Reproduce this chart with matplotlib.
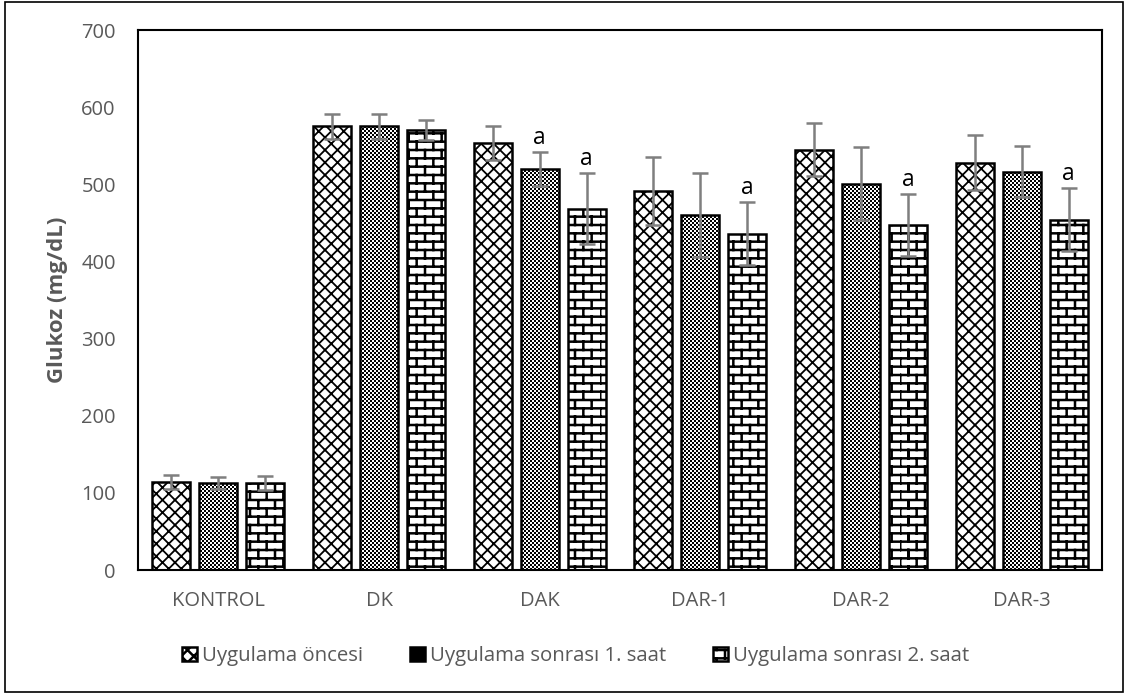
import warnings
import numpy as np
import matplotlib
matplotlib.use("Agg")
import matplotlib.pyplot as plt
import matplotlib.hatch as mhatch
from matplotlib.path import Path
from matplotlib.patches import Rectangle

warnings.filterwarnings("ignore")

# ---------------- data ----------------
categories = ["KONTROL", "DK", "DAK", "DAR-1", "DAR-2", "DAR-3"]
series_names = ["Uygulama öncesi", "Uygulama sonrası 1. saat", "Uygulama sonrası 2. saat"]
before = [114, 575, 553, 491, 545, 528]
after1 = [113, 575, 520, 460, 501, 516]
after2 = [113, 570, 468, 436, 447, 454]
err_before = [9, 16, 22, 44, 34, 36]
err_after1 = [8, 16, 22, 54, 47, 33]
err_after2 = [9, 13, 46, 41, 40, 41]
# significance marks ("a") per series
marks_after1 = ["", "", "a", "", "", ""]
marks_after2 = ["", "", "a", "a", "a", "a"]
yticks = [0, 100, 200, 300, 400, 500, 600, 700]


# ---------------- custom hatches ----------------
class DiamondHatch(mhatch.HatchPatternBase):
    def __init__(self, hatch, density):
        self.n = 8 * hatch.count('D')
        self.num_vertices = 0 if self.n == 0 else (2 * self.n + 1) * 4

    def set_vertices_and_codes(self, vertices, codes):
        n = self.n
        pts = []
        for i in range(-n, n + 1):
            x = i / n
            pts += [(x, 0), (x + 1, 1), (x, 1), (x + 1, 0)]
        vertices[:] = pts
        codes[0::2] = Path.MOVETO
        codes[1::2] = Path.LINETO


class BrickHatch(mhatch.HatchPatternBase):
    def __init__(self, hatch, density):
        k = hatch.count('B')
        self.rows = 12
        self.cols = 6
        if k == 0:
            self.num_vertices = 0
        else:
            self.num_vertices = (self.rows + 1) * 2 + self.rows * (self.cols + 1) * 2

    def set_vertices_and_codes(self, vertices, codes):
        pts = []
        for r in range(self.rows + 1):
            y = r / self.rows
            pts += [(-0.05, y), (1.05, y)]
        for r in range(self.rows):
            y0 = r / self.rows
            y1 = (r + 1) / self.rows
            shift = 0.0 if r % 2 == 0 else 0.5 / self.cols
            for c in range(self.cols + 1):
                xx = (c / self.cols + shift) % 1.0
                pts += [(xx, y0), (xx, y1)]
        vertices[:] = pts
        codes[0::2] = Path.MOVETO
        codes[1::2] = Path.LINETO


class CheckerHatch(mhatch.HatchPatternBase):
    def __init__(self, hatch, density):
        k = hatch.count('C')
        self.n = 50
        if k == 0:
            self.num_vertices = 0
        else:
            self.num_cells = (self.n * self.n) // 2
            self.num_vertices = self.num_cells * 5

    def set_vertices_and_codes(self, vertices, codes):
        n = self.n
        s = 1.0 / n
        pts = []
        cds = []
        for i in range(n):
            for j in range(n):
                if (i + j) % 2 == 0:
                    x0, y0 = i * s, j * s
                    pts += [(x0, y0), (x0 + s, y0), (x0 + s, y0 + s), (x0, y0 + s), (x0, y0)]
                    cds += [Path.MOVETO, Path.LINETO, Path.LINETO, Path.LINETO, Path.CLOSEPOLY]
        vertices[:] = pts
        codes[:] = cds


mhatch._hatch_types.extend([DiamondHatch, BrickHatch, CheckerHatch])

# ---------------- figure ----------------
plt.rcParams['font.family'] = ['Open Sans', 'DejaVu Sans']
W, H = 1129, 695
fig = plt.figure(figsize=(W / 100, H / 100), dpi=100)
ax = fig.add_axes([138 / W, 1 - 570 / H, (1102 - 138) / W, (570 - 30) / H])

x = np.arange(len(categories))
bw = 0.237
step = 0.292
series = [before, after1, after2]
errs = [err_before, err_after1, err_after2]
hatches = ['D', 'C', 'B']
hlw = [1.3, 0.01, 1.8]
marks = [[""] * 6, marks_after1, marks_after2]

handles = []
for k in range(3):
    plt.rcParams['hatch.linewidth'] = hlw[k]
    pos = x + (k - 1) * step
    bars = ax.bar(pos, series[k], width=bw, color='white', edgecolor='black',
                  linewidth=1.8, hatch=hatches[k], zorder=2)
    try:
        for b in bars:
            b.set_hatch_linewidth(hlw[k])
    except Exception:
        pass
    handles.append(bars)
    ax.errorbar(pos, series[k], yerr=errs[k], fmt='none', ecolor='#7f7f7f',
                elinewidth=1.8, capsize=5.5, capthick=1.8, zorder=3)
    for p, v, e, m in zip(pos, series[k], errs[k], marks[k]):
        if m:
            ax.text(p, v + e + 3, m, ha='center', va='bottom', fontsize=16.5,
                    color='black', zorder=4)

ax.set_xlim(-0.5, len(categories) - 0.5)
ax.set_ylim(0, 700)
ax.set_yticks(yticks)
ax.set_yticklabels([str(t) for t in yticks])
ax.set_xticks(x)
ax.set_xticklabels(categories)
ax.tick_params(axis='both', length=0, labelsize=14.5, labelcolor='#595959')
ax.tick_params(axis='y', pad=16)
ax.tick_params(axis='x', pad=15)
for sp in ax.spines.values():
    sp.set_linewidth(1.5)
    sp.set_color('black')

ax.set_ylabel("Glukoz (mg/dL)", fontsize=16, fontweight='bold', color='#595959')
ax.yaxis.set_label_coords((68 - 138) / (1102 - 138), 0.5)

leg = fig.legend(handles, series_names, loc='center', bbox_to_anchor=(576 / W, 1 - 656 / H),
                 ncol=3, frameon=False, fontsize=14.7, handlelength=0.73, handleheight=0.73,
                 handletextpad=0.25, columnspacing=2.3, labelcolor='#595959')

# outer border
fig.patches.append(Rectangle((5 / W, 1 - 692 / H), (1123 - 5) / W, (692 - 2) / H,
                             transform=fig.transFigure, fill=False,
                             edgecolor='black', linewidth=1.2))

fig.savefig("out.png", dpi=100)
